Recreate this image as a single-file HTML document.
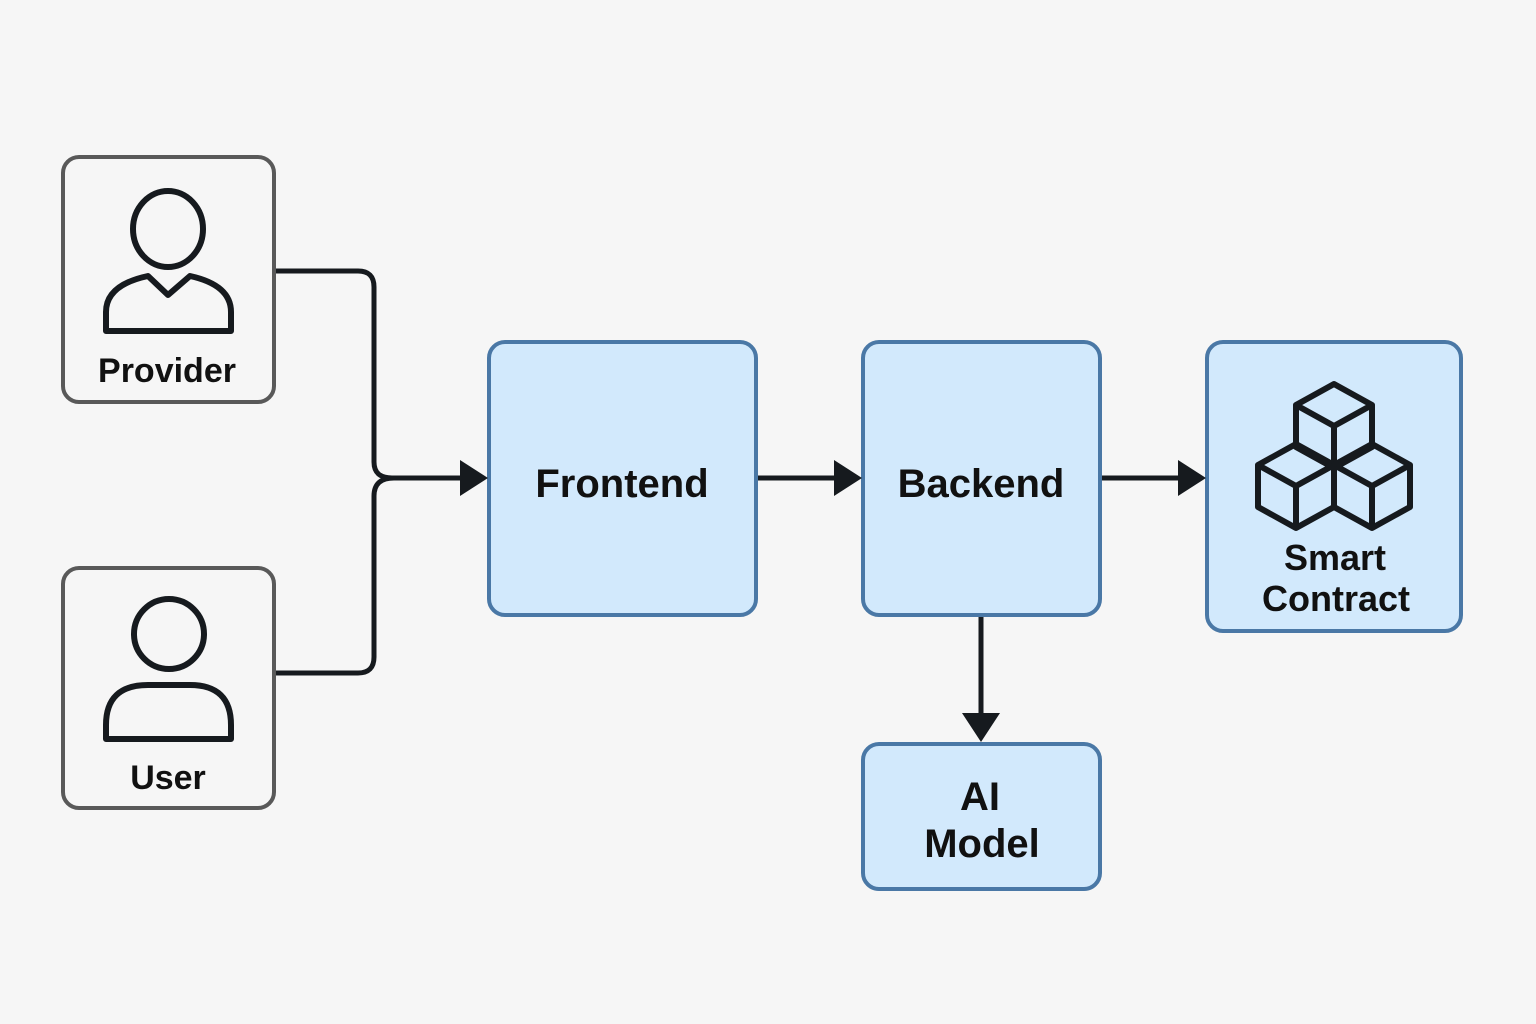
<!DOCTYPE html>
<html><head><meta charset="utf-8"><style>
html,body{margin:0;padding:0;background:#f6f6f6;}
svg{display:block;}
text{font-family:"Liberation Sans",sans-serif;font-weight:bold;fill:#111;text-anchor:middle;}
</style></head><body>
<svg width="1536" height="1024" viewBox="0 0 1536 1024" xmlns="http://www.w3.org/2000/svg">
<rect width="1536" height="1024" fill="#f6f6f6"/>
<g fill="#f6f6f6" stroke="#595959" stroke-width="4">
<rect x="63" y="157" width="211" height="245" rx="16"/>
<rect x="63" y="568" width="211" height="240" rx="16"/>
</g>
<g fill="#d2e9fc" stroke="#4a78a6" stroke-width="4">
<rect x="489" y="342" width="267" height="273" rx="16"/>
<rect x="863" y="342" width="237" height="273" rx="16"/>
<rect x="1207" y="342" width="254" height="289" rx="16"/>
<rect x="863" y="744" width="237" height="145" rx="16"/>
</g>
<!-- person icons -->
<g fill="none" stroke="#161a1e" stroke-width="6" stroke-linejoin="round">
<ellipse cx="168" cy="229" rx="35" ry="38"/>
<path d="M148 276 L168 295 L190 276 Q231 285 231 312 L231 331 L106 331 L106 312 Q106 285 148 276 Z"/>
<circle cx="169" cy="634" r="35"/>
<path d="M106 739 L231 739 L231 725 Q231 685 190 685 L148 685 Q106 685 106 725 Z"/>
</g>
<!-- cubes -->
<g fill="none" stroke="#161a1e" stroke-width="6" stroke-linejoin="round">
<g id="c"></g>
<path d="M1334 384 L1372 405 L1372 447 L1334 468 L1296 447 L1296 405 Z M1296 405 L1334 426 L1372 405 M1334 426 L1334 468"/>
<path d="M1296 444 L1334 465 L1334 507 L1296 528 L1258 507 L1258 465 Z M1258 465 L1296 486 L1334 465 M1296 486 L1296 528"/>
<path d="M1372 444 L1410 465 L1410 507 L1372 528 L1334 507 L1334 465 Z M1334 465 L1372 486 L1410 465 M1372 486 L1372 528"/>
</g>
<!-- connectors -->
<g fill="none" stroke="#161a1e" stroke-width="5">
<path d="M276 271 L358 271 Q374 271 374 287 L374 462 Q374 478 392 478 L462 478"/>
<path d="M276 673 L358 673 Q374 673 374 657 L374 496 Q374 478 394 478"/>
<path d="M758 478 L836 478"/>
<path d="M1102 478 L1180 478"/>
<path d="M981 617 L981 716"/>
</g>
<g fill="#161a1e">
<polygon points="460,460 488,478 460,496"/>
<polygon points="834,460 862,478 834,496"/>
<polygon points="1178,460 1206,478 1178,496"/>
<polygon points="962,713 1000,713 981,742"/>
</g>
<text x="167" y="382" font-size="34">Provider</text>
<text x="168" y="789" font-size="34">User</text>
<text x="622" y="497" font-size="40">Frontend</text>
<text x="981" y="497" font-size="40">Backend</text>
<text x="1335" y="570" font-size="36">Smart</text>
<text x="1336" y="611" font-size="36">Contract</text>
<text x="980" y="810" font-size="40">AI</text>
<text x="982" y="857" font-size="40">Model</text>
</svg>
</body></html>
